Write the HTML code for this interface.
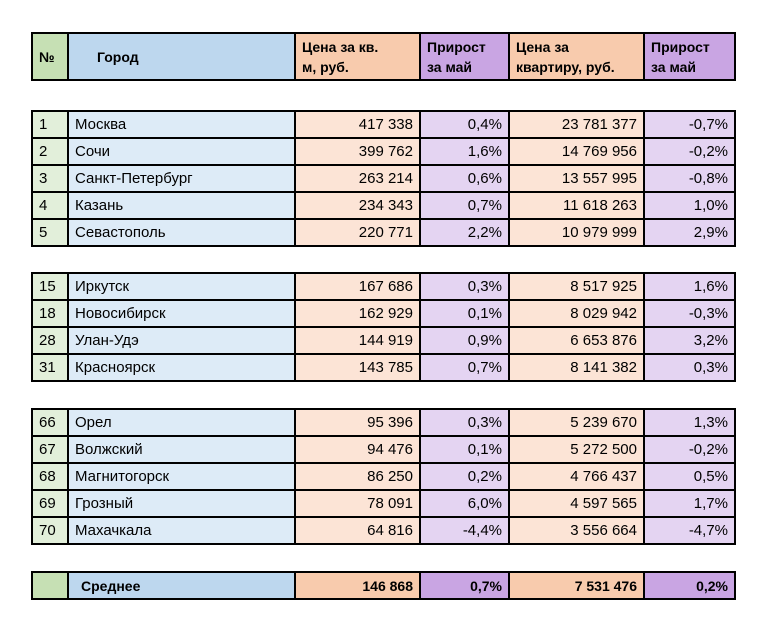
<!DOCTYPE html>
<html><head><meta charset="utf-8"><style>
body{margin:0;background:#fff;width:767px;height:629px;position:relative;font-family:"Liberation Sans",sans-serif;font-size:15px;color:#000}
table{position:absolute;left:31px;width:703px;border-collapse:collapse;table-layout:fixed}
td{border:2px solid #000;padding:0 6px;height:25px;white-space:nowrap;overflow:hidden}
.g{background:#e2efda}.b{background:#ddebf7}.o{background:#fce4d6;text-align:right}.p{background:#e4d4f2;text-align:right}
.h td{font-weight:bold;height:45px;line-height:20px;font-size:14px}
.h .g,.a .g{background:#c6e0b4}.h .b,.a .b{background:#bdd7ee}.h .o,.a .o{background:#f8cbad}.h .p,.a .p{background:#c9a5e3}
.h .o,.h .p{text-align:left}
.a td{font-weight:bold;font-size:14px}
</style></head><body>
<table class="h" style="top:32px"><colgroup><col style="width:36px"><col style="width:227px"><col style="width:125px"><col style="width:89px"><col style="width:135px"><col style="width:91px"></colgroup>
<tr><td class="g">№</td><td class="b" style="padding-left:28px">Город</td><td class="o">Цена за кв.<br>м, руб.</td><td class="p">Прирост<br>за май</td><td class="o">Цена за<br>квартиру, руб.</td><td class="p">Прирост<br>за май</td></tr></table>

<table style="top:110px"><colgroup><col style="width:36px"><col style="width:227px"><col style="width:125px"><col style="width:89px"><col style="width:135px"><col style="width:91px"></colgroup>
<tr><td class="g">1</td><td class="b">Москва</td><td class="o">417 338</td><td class="p">0,4%</td><td class="o">23 781 377</td><td class="p">-0,7%</td></tr>
<tr><td class="g">2</td><td class="b">Сочи</td><td class="o">399 762</td><td class="p">1,6%</td><td class="o">14 769 956</td><td class="p">-0,2%</td></tr>
<tr><td class="g">3</td><td class="b">Санкт-Петербург</td><td class="o">263 214</td><td class="p">0,6%</td><td class="o">13 557 995</td><td class="p">-0,8%</td></tr>
<tr><td class="g">4</td><td class="b">Казань</td><td class="o">234 343</td><td class="p">0,7%</td><td class="o">11 618 263</td><td class="p">1,0%</td></tr>
<tr><td class="g">5</td><td class="b">Севастополь</td><td class="o">220 771</td><td class="p">2,2%</td><td class="o">10 979 999</td><td class="p">2,9%</td></tr>
</table>

<table style="top:272px"><colgroup><col style="width:36px"><col style="width:227px"><col style="width:125px"><col style="width:89px"><col style="width:135px"><col style="width:91px"></colgroup>
<tr><td class="g">15</td><td class="b">Иркутск</td><td class="o">167 686</td><td class="p">0,3%</td><td class="o">8 517 925</td><td class="p">1,6%</td></tr>
<tr><td class="g">18</td><td class="b">Новосибирск</td><td class="o">162 929</td><td class="p">0,1%</td><td class="o">8 029 942</td><td class="p">-0,3%</td></tr>
<tr><td class="g">28</td><td class="b">Улан-Удэ</td><td class="o">144 919</td><td class="p">0,9%</td><td class="o">6 653 876</td><td class="p">3,2%</td></tr>
<tr><td class="g">31</td><td class="b">Красноярск</td><td class="o">143 785</td><td class="p">0,7%</td><td class="o">8 141 382</td><td class="p">0,3%</td></tr>
</table>

<table style="top:408px"><colgroup><col style="width:36px"><col style="width:227px"><col style="width:125px"><col style="width:89px"><col style="width:135px"><col style="width:91px"></colgroup>
<tr><td class="g">66</td><td class="b">Орел</td><td class="o">95 396</td><td class="p">0,3%</td><td class="o">5 239 670</td><td class="p">1,3%</td></tr>
<tr><td class="g">67</td><td class="b">Волжский</td><td class="o">94 476</td><td class="p">0,1%</td><td class="o">5 272 500</td><td class="p">-0,2%</td></tr>
<tr><td class="g">68</td><td class="b">Магнитогорск</td><td class="o">86 250</td><td class="p">0,2%</td><td class="o">4 766 437</td><td class="p">0,5%</td></tr>
<tr><td class="g">69</td><td class="b">Грозный</td><td class="o">78 091</td><td class="p">6,0%</td><td class="o">4 597 565</td><td class="p">1,7%</td></tr>
<tr><td class="g">70</td><td class="b">Махачкала</td><td class="o">64 816</td><td class="p">-4,4%</td><td class="o">3 556 664</td><td class="p">-4,7%</td></tr>
</table>

<table class="a" style="top:571px"><colgroup><col style="width:36px"><col style="width:227px"><col style="width:125px"><col style="width:89px"><col style="width:135px"><col style="width:91px"></colgroup>
<tr><td class="g"></td><td class="b" style="padding-left:12px">Среднее</td><td class="o">146 868</td><td class="p">0,7%</td><td class="o">7 531 476</td><td class="p">0,2%</td></tr>
</table>
</body></html>
